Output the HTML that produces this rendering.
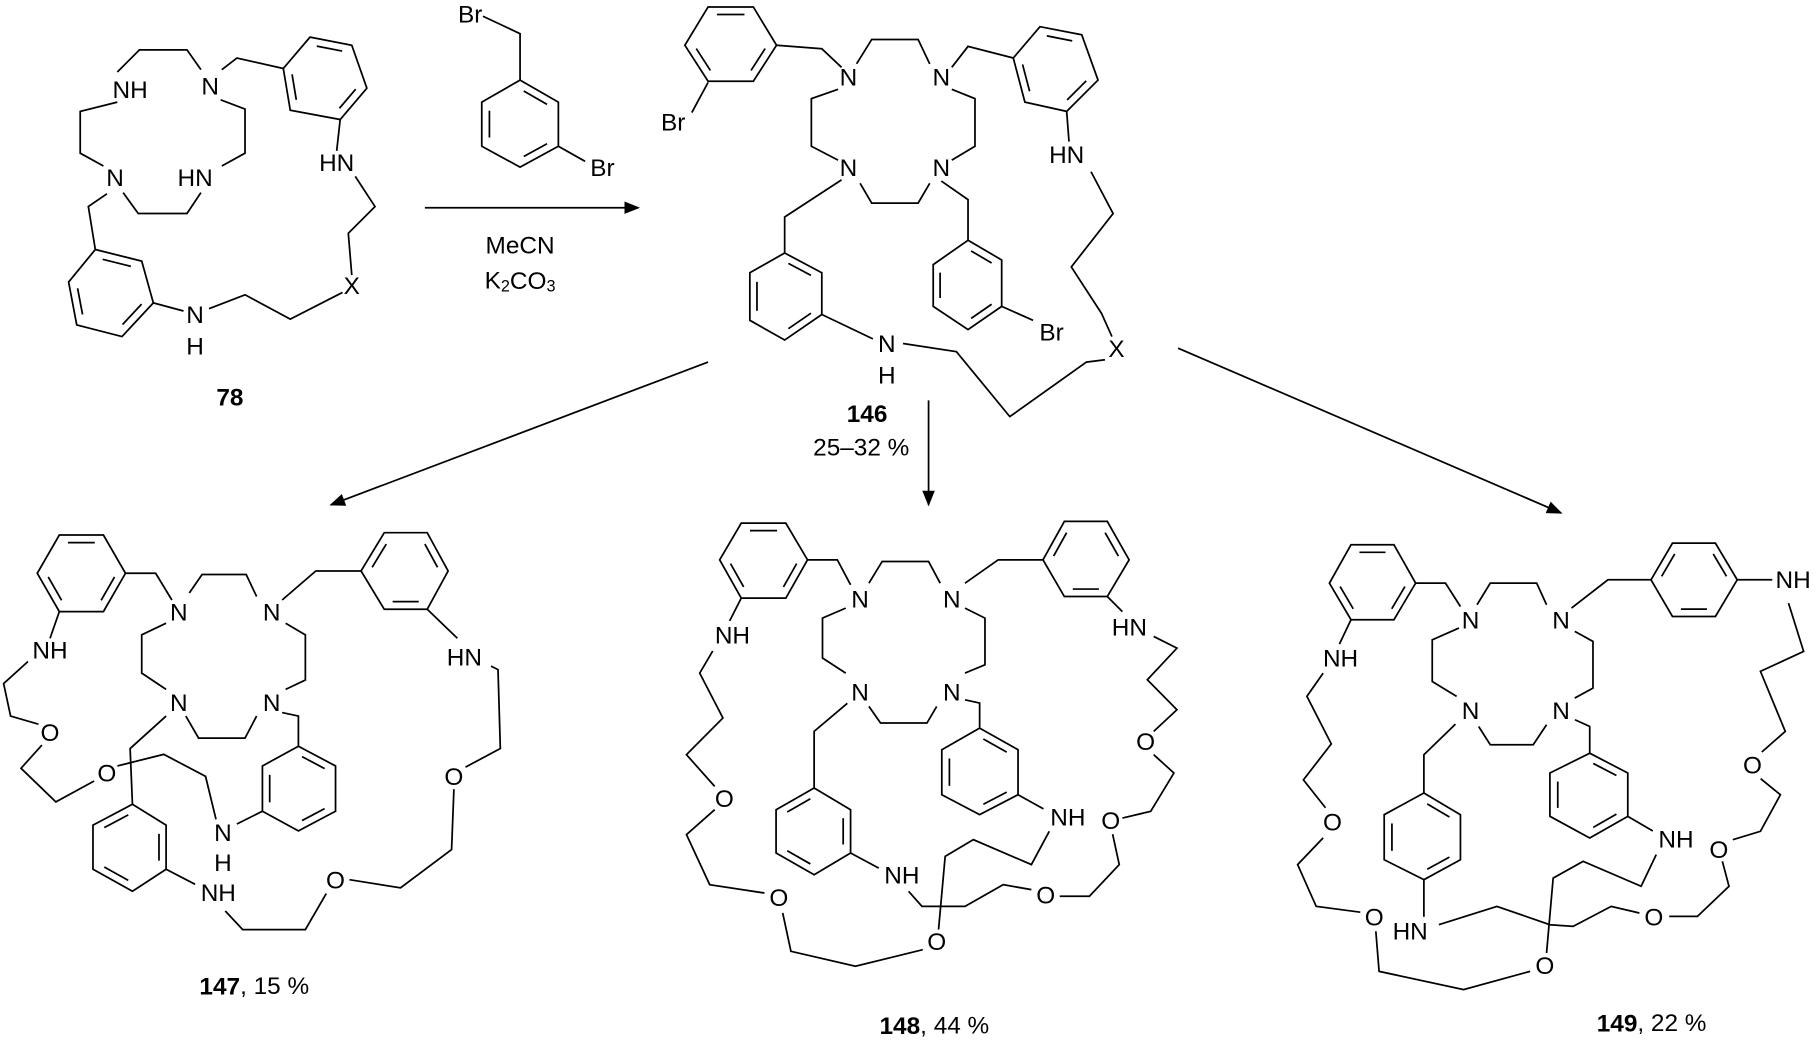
<!DOCTYPE html>
<html><head><meta charset="utf-8"><style>
html,body{margin:0;padding:0;background:#fff}
svg{display:block}
text{font-family:"Liberation Sans",sans-serif;font-size:21px;fill:#000;text-anchor:middle;dominant-baseline:central}
.b{font-weight:bold}
</style></head><body>
<svg id="s" width="1820" height="1041" viewBox="0 0 1568 897" xmlns="http://www.w3.org/2000/svg">
<defs>
<marker id="ah" viewBox="0 0 10 10" refX="9" refY="5" markerWidth="9" markerHeight="9" orient="auto"><path d="M0,1 L10,5 L0,9 z" fill="#000"/></marker>
</defs>
<g id="L" fill="none" stroke="#000" stroke-width="1.5">
<!-- 78 -->
<polyline points="191,60 204,50 244,59"/>
<polyline points="101,62 120,43 161,43 173,60"/>
<polyline points="101,88 69,96 69,132 89,143"/>
<polyline points="190,86 211,94 211,132 191,143"/>
<polyline points="106,166 119,184 161,184 173,166"/>
<polyline points="92,167 76,178 82,215"/>
<line x1="132" y1="261" x2="158" y2="268"/>
<polyline points="180,266 211,254 250,275 295,252"/>
<polyline points="303,237 300,201 323,178 306,152"/>
<line x1="290" y1="130" x2="293" y2="103"/>
<line x1="366" y1="179" x2="550" y2="179" marker-end="url(#ah)"/>
<!-- reagent -->
<polyline points="416,14 448,29 448,69"/>
<line x1="481" y1="126" x2="504" y2="139"/>
<!-- 146 -->
<line x1="596" y1="97" x2="610" y2="71"/>
<polyline points="669,39 708,42 725,58"/>
<polyline points="738,55 751,34 791,34 801,55"/>
<polyline points="722,77 699,85 699,126 722,138"/>
<polyline points="820,77 840,85 840,126 820,138"/>
<polyline points="741,158 751,175 791,175 801,158"/>
<polyline points="820,58 834,40 873,50"/>
<line x1="919" y1="96" x2="921" y2="122"/>
<polyline points="940,148 959,184 923,230 949,270 958,290"/>
<polyline points="952,310 936,312 870,359 824,303 778,296"/>
<polyline points="725,155 676,187 676,218"/>
<line x1="708" y1="271" x2="752" y2="292"/>
<polyline points="811,156 834,172 834,207"/>
<line x1="863" y1="264" x2="890" y2="276"/>
<line x1="610" y1="312" x2="285" y2="435" marker-end="url(#ah)"/>
<line x1="800" y1="345" x2="800" y2="435" marker-end="url(#ah)"/>
<line x1="1015" y1="300" x2="1345" y2="442" marker-end="url(#ah)"/>
<!-- 147 -->
<polyline points="108,494 134,494 148,517"/>
<polyline points="163,511 174,495 212,495 221,514"/>
<polyline points="143,537 122,547 122,580 143,594"/>
<polyline points="246,537 263,547 263,586 246,594"/>
<polyline points="160,617 171,636 211,636 221,617"/>
<polyline points="243,517 272,492 311,492"/>
<line x1="368" y1="525" x2="394" y2="550"/>
<polyline points="423,574 429,577 431,645 401,661"/>
<polyline points="391,680 389,732 345,765 301,758"/>
<polyline points="281,770 263,801 209,801 194,785"/>
<line x1="168" y1="762" x2="143" y2="749"/>
<polyline points="114,693 112,645 143,617"/>
<polyline points="243,614 257,617 257,643"/>
<line x1="226" y1="699" x2="204" y2="710"/>
<polyline points="101,660 141,650 177,669 186,706"/>
<polyline points="81,673 48,691 18,662 36,642"/>
<polyline points="33,624 9,617 3,589 24,570"/>
<line x1="43" y1="550" x2="51" y2="527"/>
<!-- 148 -->
<polyline points="695.7,482.4 721.4,482.4 732.8,503.9"/>
<polyline points="748.6,502.5 760,483.8 800,483.8 810,502.5"/>
<polyline points="728.6,524 708.6,532.6 708.6,567 728.6,580"/>
<polyline points="831.4,524 848.6,532.6 848.6,572.8 831.4,580"/>
<polyline points="748.6,608.7 758.6,623 798.6,623 807,608.7"/>
<polyline points="831.4,502.5 860,482.4 898.6,482.4"/>
<line x1="954" y1="514" x2="967" y2="527"/>
<polyline points="994,548.4 1014,558.5 988.5,585.7 1014,611.6 994,630.2"/>
<polyline points="994,650.3 1011.4,666.1 991.4,699.1 967,704.9"/>
<polyline points="958.6,718.8 964.3,745 938.6,772.3 913,772.3"/>
<polyline points="888.6,766.6 864.3,762.3 831.4,781 794.3,781 782.8,768"/>
<line x1="757.1" y1="748" x2="732.8" y2="735"/>
<polyline points="701.4,679 701.4,630.2 730,606"/>
<polyline points="831.4,603 844,605.8 844,627.4"/>
<line x1="877.1" y1="684.8" x2="899" y2="697"/>
<polyline points="904,716.3 888.6,745 838.6,723.5 814.3,737.9 808.6,801"/>
<polyline points="795,818.3 737,832.6 681.4,819.7 674.3,786.7"/>
<polyline points="658.6,769.5 611.4,762.3 591.4,719.2 615.7,697.7"/>
<polyline points="615.7,677.6 591.4,650.3 622.8,618.7 602.8,580 614,561"/>
<line x1="628.6" y1="535" x2="638.6" y2="515.4"/>
<!-- 149 -->
<polyline points="1219.7,502.5 1245.4,502.5 1258.3,522.6"/>
<polyline points="1272.6,521.1 1284,502.5 1324,502.5 1332.5,521.1"/>
<polyline points="1257,541.2 1234,551.3 1234,587.2 1255,600"/>
<polyline points="1356.8,544 1372.5,552.7 1372.5,592.9 1356.8,601.5"/>
<polyline points="1274,626 1284,641.7 1321,641.7 1332.5,624.5"/>
<polyline points="1354,524 1385.4,499.6 1422.5,499.6"/>
<line x1="1496.8" y1="499.6" x2="1527" y2="499.6"/>
<polyline points="1541,519.7 1554,561.3 1516.8,578.5 1538.2,630.2 1518,648"/>
<polyline points="1517,671 1534,684.8 1516.8,716.3 1493,723.5"/>
<polyline points="1484,742.2 1489.7,763.7 1462.5,789.6 1438.2,789.6"/>
<polyline points="1412.5,786.7 1388.2,781 1355.4,798.2 1335.4,796.8 1289.7,781 1239.7,796.8"/>
<line x1="1226.8" y1="790" x2="1226.8" y2="758"/>
<polyline points="1226.8,683.3 1226.8,650.3 1254,624"/>
<polyline points="1357,620.2 1369.7,626 1369.7,649"/>
<line x1="1402.5" y1="703.4" x2="1424" y2="716"/>
<polyline points="1427,736.4 1414,763.7 1364,742.2 1338.2,756.6 1332.5,821.2"/>
<polyline points="1318.3,837 1261,852.7 1188.2,837 1185.4,802.5"/>
<polyline points="1172,786 1134,781 1118,745 1140,722"/>
<polyline points="1142,696 1123,672 1147,641 1126,600 1140,580"/>
<line x1="1154" y1="555" x2="1164" y2="534"/>
</g>
<g>
<text x="112" y="78">NH</text><text x="181" y="75">N</text><text x="99" y="154">N</text><text x="168" y="154">HN</text>
<text x="290" y="141">HN</text><text x="303" y="247">X</text><text x="168" y="272">N</text><text x="168" y="299">H</text>
<text class="b" x="198" y="343">78</text>
<text x="405" y="13">Br</text><text x="519" y="145">Br</text>
<text x="448" y="212">MeCN</text><text x="448" y="242">K<tspan font-size="14" dy="5">2</tspan><tspan dy="-5">CO</tspan><tspan font-size="14" dy="5">3</tspan></text>
<text x="580" y="106">Br</text><text x="731" y="67">N</text><text x="811" y="67">N</text><text x="731" y="145">N</text><text x="811" y="145">N</text>
<text x="919" y="134">HN</text><text x="906" y="287">Br</text><text x="764" y="297">N</text><text x="764" y="324">H</text><text x="962" y="301">X</text>
<text class="b" x="747" y="357">146</text><text x="742" y="386">25–32 %</text>
<text x="154" y="528">N</text><text x="234" y="528">N</text><text x="154" y="606">N</text><text x="234" y="606">N</text>
<text x="43" y="561">NH</text><text x="400" y="567">HN</text><text x="43" y="632">O</text><text x="92" y="667">O</text><text x="391" y="670">O</text>
<text x="192" y="718">N</text><text x="192" y="744">H</text><text x="188" y="770">NH</text><text x="289" y="759">O</text>
<text x="219" y="850"><tspan class="b">147</tspan>, 15 %</text>
<text x="741" y="517">N</text><text x="820" y="517">N</text><text x="741" y="597">N</text><text x="820" y="597">N</text>
<text x="631" y="548">NH</text><text x="973" y="541">HN</text><text x="987" y="640">O</text><text x="957" y="708">O</text><text x="920" y="705">NH</text>
<text x="901" y="772">O</text><text x="777" y="755">NH</text><text x="807" y="812">O</text><text x="671" y="774">O</text><text x="624" y="689">O</text>
<text x="805" y="884"><tspan class="b">148</tspan>,  44 %</text>
<text x="1267" y="535">N</text><text x="1345" y="535">N</text><text x="1267" y="613">N</text><text x="1345" y="613">N</text>
<text x="1545" y="500">NH</text><text x="1155" y="568">NH</text><text x="1510" y="660">O</text><text x="1481" y="733">O</text><text x="1444" y="724">NH</text>
<text x="1425" y="791">O</text><text x="1215" y="803">HN</text><text x="1331" y="833">O</text><text x="1184" y="791">O</text><text x="1148" y="709">O</text>
<text x="1423" y="882"><tspan class="b">149</tspan>, 22 %</text>
</g>
</svg>
<script>
(function(){
var R=[
[[267,32],[303,39],[316,76],[293,103],[250,95],[244,59]],
[[82,215],[122,225],[132,261],[105,290],[66,280],[59,243]],
[[448,69],[481,88],[481,126],[448,144],[415,126],[415,88]],
[[610,6],[649,6],[669,39],[649,70],[610,70],[590,39]],
[[896,23],[932,30],[946,69],[919,96],[883,88],[873,50]],
[[676,218],[708,235],[708,271],[676,293],[646,276],[646,235]],
[[834,207],[863,224],[863,264],[834,284],[804,264],[804,228]],
[[51,461],[89,461],[108,494],[89,527],[51,527],[32,494]],
[[311,492],[331,459],[368,459],[386,492],[368,525],[331,525]],
[[143,749],[143,711],[114,693],[80,711],[80,749],[114,768]],
[[257,643],[289,660],[289,699],[257,716],[226,699],[226,660]],
[[638.6,450.8],[677,450.8],[695.7,482.4],[677,515.4],[638.6,515.4],[620,482.4]],
[[898.6,482.4],[917,449.3],[954,449.3],[972.8,482.4],[954,514],[917,514]],
[[732.8,735],[732.8,697.7],[701.4,679],[668.6,697.7],[668.6,735],[701.4,753.7]],
[[844,627.4],[877.1,646],[877.1,684.8],[844,702],[811.4,684.8],[811.4,646]],
[[1164,469.4],[1201,469.4],[1219.7,502.5],[1201,534],[1164,534],[1145.4,502.5]],
[[1422.5,499.6],[1441,468],[1478,468],[1496.8,499.6],[1478,531.2],[1441,531.2]],
[[1226.8,758],[1258.3,740.8],[1258.3,702],[1226.8,683.3],[1192.6,702],[1192.6,740.8]],
[[1369.7,649],[1402.5,666.1],[1402.5,703.4],[1369.7,722.1],[1335.4,703.4],[1335.4,666.1]]
];
var g=document.getElementById('L'),ns='http://www.w3.org/2000/svg';
R.forEach(function(p){
var pg=document.createElementNS(ns,'polygon');pg.setAttribute('points',p.map(function(q){return q.join(',')}).join(' '));g.appendChild(pg);
var cx=0,cy=0;p.forEach(function(q){cx+=q[0];cy+=q[1]});cx/=6;cy/=6;
for(var i=0;i<6;i+=2){var a=p[i],b=p[(i+1)%6];
var a2=[cx+(a[0]-cx)*0.8,cy+(a[1]-cy)*0.8],b2=[cx+(b[0]-cx)*0.8,cy+(b[1]-cy)*0.8];
var dx=(b2[0]-a2[0])*0.12,dy=(b2[1]-a2[1])*0.12;
var l=document.createElementNS(ns,'line');l.setAttribute('x1',a2[0]+dx);l.setAttribute('y1',a2[1]+dy);l.setAttribute('x2',b2[0]-dx);l.setAttribute('y2',b2[1]-dy);g.appendChild(l);}
});
})();
</script>
</body></html>
